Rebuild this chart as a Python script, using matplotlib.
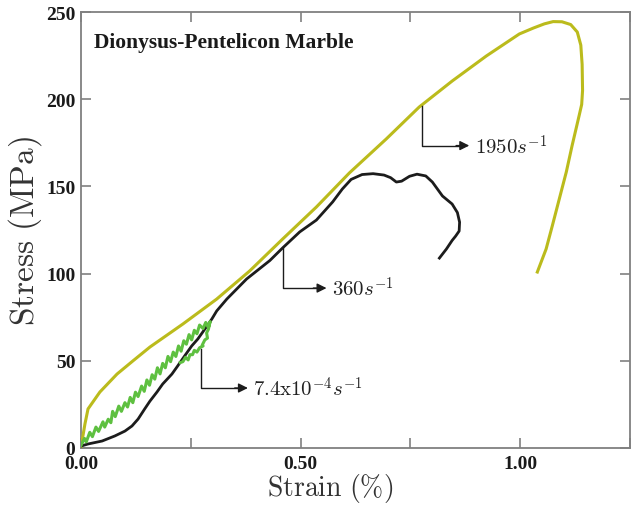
import matplotlib
matplotlib.use("Agg")
import matplotlib.pyplot as plt
import matplotlib.transforms as mtransforms

plt.rcParams['mathtext.fontset'] = 'cm'

# ---- data ----
y1950_x = [0.000, 0.002, 0.009, 0.016, 0.043, 0.082, 0.118, 0.157, 0.232, 0.309, 0.384,
           0.459, 0.536, 0.611, 0.695, 0.770, 0.845, 0.923, 0.998, 1.030, 1.055, 1.075,
           1.095, 1.115, 1.130, 1.138, 1.141, 1.142, 1.140, 1.134, 1.118, 1.105, 1.089,
           1.073, 1.059, 1.039]
y1950_y = [0.0, 3.4, 13.8, 22.4, 32.1, 42.4, 49.9, 57.9, 71.1, 85.4, 101.5,
           119.8, 138.2, 157.7, 177.2, 195.5, 210.4, 224.8, 237.4, 240.8, 243.2, 244.5,
           244.4, 242.8, 238.5, 231.0, 220.0, 205.0, 197.0, 190.4, 173.2, 158.3, 142.8,
           127.3, 114.1, 100.9]

y360_x = [0.000, 0.016, 0.048, 0.077, 0.100, 0.116, 0.130, 0.145, 0.157, 0.173, 0.186,
          0.207, 0.220, 0.236, 0.252, 0.266, 0.282, 0.298, 0.309, 0.332, 0.377, 0.430,
          0.459, 0.498, 0.536, 0.573, 0.595, 0.615, 0.640, 0.665, 0.690, 0.705, 0.718,
          0.730, 0.748, 0.765, 0.785, 0.800, 0.823, 0.845, 0.857, 0.862, 0.861, 0.853,
          0.845, 0.832, 0.816]
y360_y = [1.1, 2.3, 4.0, 6.9, 9.7, 12.6, 16.6, 22.4, 26.9, 32.1, 36.7,
          42.4, 47.0, 52.8, 58.5, 62.5, 68.2, 74.0, 78.6, 85.4, 96.9, 107.5,
          114.7, 123.9, 130.7, 141.1, 148.5, 154.0, 156.8, 157.3, 156.5, 155.0, 152.5,
          153.0, 155.8, 157.0, 156.0, 152.5, 144.5, 139.9, 135.0, 129.5, 124.4, 121.5,
          119.0, 114.1, 108.9]

slow_x = [0.000, 0.008, 0.012, 0.020, 0.026, 0.034, 0.040, 0.050, 0.054, 0.062, 0.068,
          0.072, 0.078, 0.086, 0.092, 0.100, 0.106, 0.112, 0.118, 0.124, 0.130, 0.138,
          0.144, 0.150, 0.156, 0.162, 0.168, 0.174, 0.180, 0.186, 0.192, 0.198, 0.204,
          0.210, 0.216, 0.222, 0.228, 0.234, 0.240, 0.246, 0.252, 0.258, 0.264, 0.270,
          0.278, 0.284, 0.290, 0.294, 0.290, 0.286, 0.288, 0.282, 0.276, 0.278, 0.270,
          0.264, 0.258, 0.254, 0.248, 0.244, 0.238, 0.232, 0.226]
slow_y = [1.5, 5.5, 3.5, 9.0, 6.5, 12.0, 9.5, 15.0, 12.0, 16.5, 14.5,
          21.0, 18.0, 24.0, 21.0, 26.0, 23.5, 29.0, 26.0, 32.0, 29.5, 35.5,
          32.5, 39.0, 36.0, 42.0, 39.5, 46.0, 42.5, 48.5, 46.0, 52.5, 49.5,
          55.0, 52.5, 58.5, 55.5, 61.5, 59.5, 65.0, 62.0, 67.5, 65.5, 70.5,
          68.5, 72.0, 69.0, 72.5, 68.0, 66.0, 63.0, 62.0, 59.0, 58.5, 57.5,
          55.0, 56.0, 53.5, 53.5, 50.5, 52.0, 49.5, 49.0]

x_ticks = [0.0, 0.25, 0.5, 0.75, 1.0, 1.25]
x_ticklabels = ['0.00', '', '0.50', '', '1.00', '']
y_ticks = [0, 50, 100, 150, 200, 250]
y_ticklabels = ['0', '50', '100', '150', '200', '250']

labels = [r'$1950s^{-1}$', r'$360s^{-1}$', r'$7.4\mathrm{x}10^{-4}s^{-1}$']
# annotation anchors: (curve x, curve y, elbow y, arrow tip x)
ann_pts = [(0.777, 196.3, 173.4, 0.884),
           (0.459, 114.7, 91.7, 0.559),
           (0.273, 56.8, 34.4, 0.380)]

# ---- figure ----
fig = plt.figure(figsize=(6.31, 5.06), dpi=100)
ax = fig.add_axes([81/631, 57/506, 549/631, 436/506])

ax.plot(y1950_x, y1950_y, color='#BBBB1C', lw=2.2, zorder=3, solid_joinstyle='round')
ax.plot(y360_x, y360_y, color='#1C1C1C', lw=2.0, zorder=4, solid_joinstyle='round')
ax.plot(slow_x, slow_y, color='#5EC040', lw=2.2, zorder=5)

for (xc, yc, ye, xt), lab in zip(ann_pts, labels):
    ax.plot([xc, xc, xt - 0.02], [yc, ye, ye], color='#1C1C1C', lw=1.0, zorder=6)
    ax.annotate('', xy=(xt, ye), xytext=(xt - 0.03, ye),
                arrowprops=dict(arrowstyle='-|>', color='#1C1C1C', lw=1.0,
                                mutation_scale=14, shrinkA=0, shrinkB=0), zorder=6)
    ax.text(xt + 0.012, ye, lab, fontsize=15, va='center', ha='left', color='#222222')

ax.text(0.03, 233, 'Dionysus-Pentelicon Marble', fontsize=15.5, fontweight='bold',
        family='Liberation Serif', va='center', ha='left', color='#1a1a1a')

ax.set_xlim(0, 1.25)
ax.set_ylim(0, 250)
ax.set_xticks(x_ticks)
ax.set_xticklabels(x_ticklabels)
ax.set_yticks(y_ticks)
ax.set_yticklabels(y_ticklabels)
for t in ax.get_xticklabels() + ax.get_yticklabels():
    t.set_fontfamily('Liberation Serif')
    t.set_fontweight('bold')
    t.set_fontsize(14)
    t.set_color('#1a1a1a')
off = mtransforms.ScaledTranslation(6/100, 0, fig.dpi_scale_trans)
for t in ax.get_xticklabels():
    t.set_transform(t.get_transform() + off)

ax.tick_params(direction='in', length=7, width=1.2, color='#808080',
               top=True, right=True, labeltop=False, labelright=False)
ax.tick_params(axis='x', pad=5)
ax.tick_params(axis='y', pad=4)
for s in ax.spines.values():
    s.set_color('#808080')
    s.set_linewidth(1.3)

ax.set_xlabel(r'$\mathrm{Strain\ (\%)}$', fontsize=20, color='#333333')
ax.set_ylabel(r'$\mathrm{Stress\ (MPa)}$', fontsize=24, color='#333333')
ax.xaxis.set_label_coords((330 - 81) / 549, (449 - 472) / 436)
ax.yaxis.set_label_coords((44 - 81) / 549, 0.5)

fig.savefig('out.png', dpi=100)
